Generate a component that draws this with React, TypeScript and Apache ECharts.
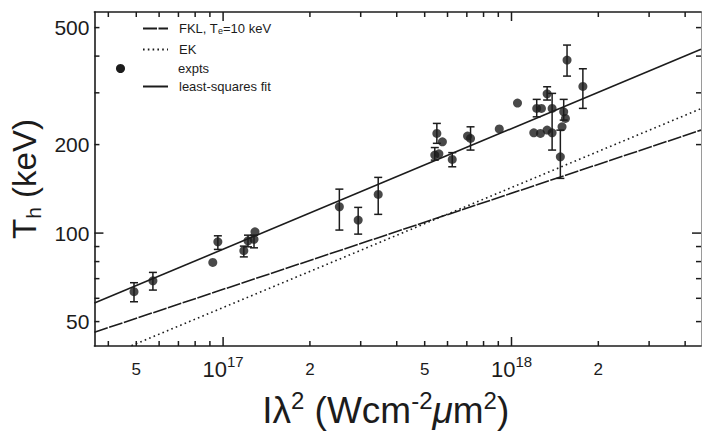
import React, { useEffect, useRef } from 'react';
import * as echarts from 'echarts';

// ---- data ----
const xTickMinor = [4e16, 5e16, 6e16, 7e16, 8e16, 9e16, 2e17, 3e17, 4e17, 5e17, 6e17, 7e17, 8e17, 9e17, 2e18, 3e18, 4e18];
const xTickMajor = [1e17, 1e18];
const xTickLabels = [5e16, 1e17, 2e17, 5e17, 1e18, 2e18];
const yTickMinor = [50, 60, 70, 80, 90, 200, 300, 400, 500];
const yTickMajor = [100];
const yTickLabels = [50, 100, 200, 500];

const xRange = [3.58e16, 4.54e18];
const yRange = [41.3, 565];

const FKL_NAME = 'FKL, Te=10 keV';
const EK_NAME = 'EK';
const EXP_NAME = 'expts';
const FIT_NAME = 'least-squares fit';

const fklX = [3.58e16, 4.54e18];
const fklY = [46, 224];
const ekX = [4.81e16, 4.54e18];
const ekY = [41.4, 265];
const fitX = [3.58e16, 4.54e18];
const fitY = [57.8, 422];

const expX = [4.91e16, 5.71e16, 9.21e16, 9.59e16, 1.18e17, 1.22e17, 1.28e17, 1.29e17, 2.53e17, 2.94e17, 3.45e17,
  5.51e17, 5.76e17, 5.42e17, 5.6e17, 6.23e17, 7.21e17, 7.04e17, 9.07e17, 1.049e18, 1.558e18, 1.768e18, 1.329e18,
  1.223e18, 1.27e18, 1.383e18, 1.517e18, 1.538e18, 1.497e18, 1.195e18, 1.26e18, 1.329e18, 1.383e18, 1.477e18];
const expY = [63.2, 68.8, 79.5, 93.4, 87.1, 94.1, 95.2, 101, 122.9, 110.7, 135.4,
  218.3, 204.4, 184.2, 186.1, 178.1, 209.9, 213.8, 226.1, 276.8, 387.7, 315.5, 297.7,
  265.6, 265.6, 265.6, 258.6, 245.5, 229.9, 219.4, 218.3, 224.0, 219.4, 181.8];
const expLow = [58.4, 64.0, null, 88.0, 83.0, 89.8, 89.1, null, 102.4, 99.2, 115.8,
  202, null, 177.1, null, 168.1, 191.6, null, null, null, 342.0, 265.6, 283.5,
  248.6, null, 191.6, 242.3, null, null, null, null, null, null, 153.5];
const expHigh = [67.8, 73.5, null, 97.9, 90.3, 98.4, 98.4, null, 141.1, 122.3, 154.7,
  236.1, null, 195.4, null, 187.8, 229.9, null, null, null, 436.1, 362.2, 314.6,
  285.0, null, 298.7, 285.0, null, null, null, null, null, null, 224.0];

const FONT = 'Liberation Sans';
const INK = '#1c1c1c';
const MINOR_LEN = 5;
const MAJOR_LEN = 9;

function xLabelFmt(v: number) {
  const e = Math.log10(v);
  const r = Math.round(e);
  if (Math.abs(e - r) < 1e-6) return `{b|10}{s|${r}}`;
  const m = Math.round(v / Math.pow(10, Math.floor(e + 1e-9)));
  return `{m|${m}}`;
}

export default function App() {
  const ref = useRef<HTMLDivElement>(null);
  useEffect(() => {
    if (!ref.current) return;
    const chart = echarts.init(ref.current, undefined, { renderer: 'svg' });
    const lineData = (xs: number[], ys: number[]) => xs.map((x, i) => [x, ys[i]]);
    const errData = expX
      .map((x, i) => [x, expLow[i], expHigh[i]])
      .filter((d) => d[1] != null && d[2] != null);

    // tick rows: [value, helper, tick length]; the frame position comes from the axis extent
    const yMid = Math.sqrt(yRange[0] * yRange[1]);
    const xMid = Math.sqrt(xRange[0] * xRange[1]);
    const xTickData = [
      ...xTickMinor.map((v) => [v, yMid, MINOR_LEN]),
      ...xTickMajor.map((v) => [v, yMid, MAJOR_LEN]),
    ];
    const yTickData = [
      ...yTickMinor.map((v) => [xMid, v, MINOR_LEN]),
      ...yTickMajor.map((v) => [xMid, v, MAJOR_LEN]),
    ];

    const legendCommon = {
      orient: 'vertical',
      selectedMode: false,
      itemHeight: 14,
      itemWidth: 25,
      itemGap: 8,
      itemStyle: { opacity: 0 },
      textStyle: {
        fontFamily: FONT,
        fontSize: 13,
        color: INK,
        padding: [0, 0, 0, 6],
        rich: {
          n: { fontFamily: FONT, fontSize: 13, color: INK },
          sub: { fontFamily: FONT, fontSize: 9, color: INK, verticalAlign: 'bottom', lineHeight: 10 },
        },
      },
      formatter: (name: string) =>
        name === FKL_NAME ? '{n|FKL, T}{sub|e}{n|=10 keV}' : `{n|${name}}`,
    };

    chart.setOption({
      animation: false,
      backgroundColor: '#ffffff',
      textStyle: { fontFamily: FONT },
      grid: { left: 93, top: 12, right: 1, bottom: 95, containLabel: false },
      legend: [
        { ...legendCommon, left: 137, top: 17, data: [FKL_NAME, EK_NAME] },
        {
          ...legendCommon,
          left: 111,
          top: 57,
          itemWidth: 9,
          itemHeight: 9,
          itemStyle: { opacity: 1, color: INK },
          textStyle: { ...legendCommon.textStyle, padding: [0, 0, 0, 48] },
          data: [{ name: EXP_NAME, icon: 'circle' }],
        },
        { ...legendCommon, left: 137, top: 75, data: [FIT_NAME] },
      ],
      xAxis: [
        {
          type: 'log',
          logBase: 10,
          position: 'bottom',
          min: xRange[0],
          max: xRange[1],
          axisLine: { show: true, lineStyle: { color: INK, width: 1.6 } },
          axisTick: { show: false },
          axisLabel: {
            show: true,
            customValues: xTickLabels,
            margin: 8,
            color: INK,
            formatter: xLabelFmt,
            rich: {
              b: { fontFamily: FONT, fontSize: 22, lineHeight: 30, color: INK },
              s: { fontFamily: FONT, fontSize: 15, lineHeight: 12, verticalAlign: 'top', color: INK },
              m: { fontFamily: FONT, fontSize: 17, lineHeight: 30, color: INK },
            },
          },
          splitLine: { show: false },
          name: '{n|Iλ}{s|2}{n| (Wcm}{s|-2}{i|μ}{n|m}{s|2}{n|)}',
          nameLocation: 'middle',
          nameGap: 42,
          nameTextStyle: {
            color: INK,
            padding: [0, 24, 0, 0],
            rich: {
              n: { fontFamily: FONT, fontSize: 37, lineHeight: 44, color: INK },
              i: { fontFamily: FONT, fontSize: 37, lineHeight: 44, fontStyle: 'italic', color: INK },
              s: { fontFamily: FONT, fontSize: 24, lineHeight: 16, verticalAlign: 'top', color: INK },
            },
          },
        },
        {
          type: 'log',
          logBase: 10,
          position: 'top',
          min: xRange[0],
          max: xRange[1],
          axisLine: { show: true, lineStyle: { color: INK, width: 1.6 } },
          axisTick: { show: false },
          axisLabel: { show: false },
          splitLine: { show: false },
        },
      ],
      yAxis: [
        {
          type: 'log',
          logBase: 10,
          position: 'left',
          min: yRange[0],
          max: yRange[1],
          axisLine: { show: true, lineStyle: { color: INK, width: 1.6 } },
          axisTick: { show: false },
          axisLabel: {
            show: true,
            customValues: yTickLabels,
            margin: 5,
            color: INK,
            fontFamily: FONT,
            fontSize: 21,
            padding: [6, 0, 0, 0],
          },
          splitLine: { show: false },
          name: '{n|T}{sub|h}{n| (keV)}',
          nameLocation: 'middle',
          nameGap: 49,
          nameRotate: 90,
          nameTextStyle: {
            color: INK,
            rich: {
              n: { fontFamily: FONT, fontSize: 33, lineHeight: 38, color: INK },
              sub: { fontFamily: FONT, fontSize: 21, lineHeight: 14, verticalAlign: 'bottom', color: INK },
            },
          },
        },
        {
          type: 'log',
          logBase: 10,
          position: 'right',
          min: yRange[0],
          max: yRange[1],
          axisLine: { show: true, lineStyle: { color: '#9a9a9a', width: 1 } },
          axisTick: { show: false },
          axisLabel: { show: false },
          splitLine: { show: false },
        },
      ],
      series: [
        {
          name: FKL_NAME,
          type: 'line',
          symbol: 'none',
          data: lineData(fklX, fklY),
          itemStyle: { color: INK },
          lineStyle: { color: INK, width: 1.6, type: [14, 1.5] },
          z: 3,
        },
        {
          name: EK_NAME,
          type: 'line',
          symbol: 'none',
          data: lineData(ekX, ekY),
          itemStyle: { color: INK },
          lineStyle: { color: INK, width: 1.6, type: [1.6, 3.2] },
          z: 3,
        },
        {
          name: FIT_NAME,
          type: 'line',
          symbol: 'none',
          data: lineData(fitX, fitY),
          itemStyle: { color: INK },
          lineStyle: { color: INK, width: 1.6 },
          z: 3,
        },
        {
          name: 'errorbars',
          type: 'custom',
          data: errData,
          encode: { x: 0, y: [1, 2] },
          z: 4,
          renderItem: (params: any, api: any) => {
            const x = api.value(0);
            const lo = api.value(1);
            const hi = api.value(2);
            const p1 = api.coord([x, lo]);
            const p2 = api.coord([x, hi]);
            const w = 4;
            const style = { stroke: INK, lineWidth: 1.5, fill: null };
            return {
              type: 'group',
              children: [
                { type: 'line', shape: { x1: p1[0], y1: p1[1], x2: p2[0], y2: p2[1] }, style },
                { type: 'line', shape: { x1: p1[0] - w, y1: p1[1], x2: p1[0] + w, y2: p1[1] }, style },
                { type: 'line', shape: { x1: p2[0] - w, y1: p2[1], x2: p2[0] + w, y2: p2[1] }, style },
              ],
            };
          },
        },
        {
          name: 'frameTicksX',
          type: 'custom',
          data: xTickData,
          encode: { x: 0, y: [1, 2] },
          z: 4,
          renderItem: (params: any, api: any) => {
            const v = api.value(0);
            const len = api.value(2);
            const pb = api.coord([v, yRange[0]]);
            const pt = api.coord([v, yRange[1]]);
            const style = { stroke: INK, lineWidth: 1.5, fill: null };
            return {
              type: 'group',
              children: [
                { type: 'line', shape: { x1: pb[0], y1: pb[1], x2: pb[0], y2: pb[1] - len }, style },
                { type: 'line', shape: { x1: pt[0], y1: pt[1], x2: pt[0], y2: pt[1] + len }, style },
              ],
            };
          },
        },
        {
          name: 'frameTicksY',
          type: 'custom',
          data: yTickData,
          encode: { x: [0, 2], y: 1 },
          z: 4,
          renderItem: (params: any, api: any) => {
            const v = api.value(1);
            const len = api.value(2);
            const pl = api.coord([xRange[0], v]);
            const pr = api.coord([xRange[1], v]);
            const style = { stroke: INK, lineWidth: 1.5, fill: null };
            return {
              type: 'group',
              children: [
                { type: 'line', shape: { x1: pl[0], y1: pl[1], x2: pl[0] + len, y2: pl[1] }, style },
                { type: 'line', shape: { x1: pr[0], y1: pr[1], x2: pr[0] - len, y2: pr[1] }, style },
              ],
            };
          },
        },
        {
          name: EXP_NAME,
          type: 'scatter',
          symbol: 'circle',
          symbolSize: 9,
          data: lineData(expX, expY),
          itemStyle: { color: INK },
          z: 5,
        },
      ],
    });
    return () => chart.dispose();
  }, []);
  return (
    <div
      ref={ref}
      style={{ position: 'fixed', left: 0, top: 0, width: 702, height: 441, background: '#fff' }}
    />
  );
}
